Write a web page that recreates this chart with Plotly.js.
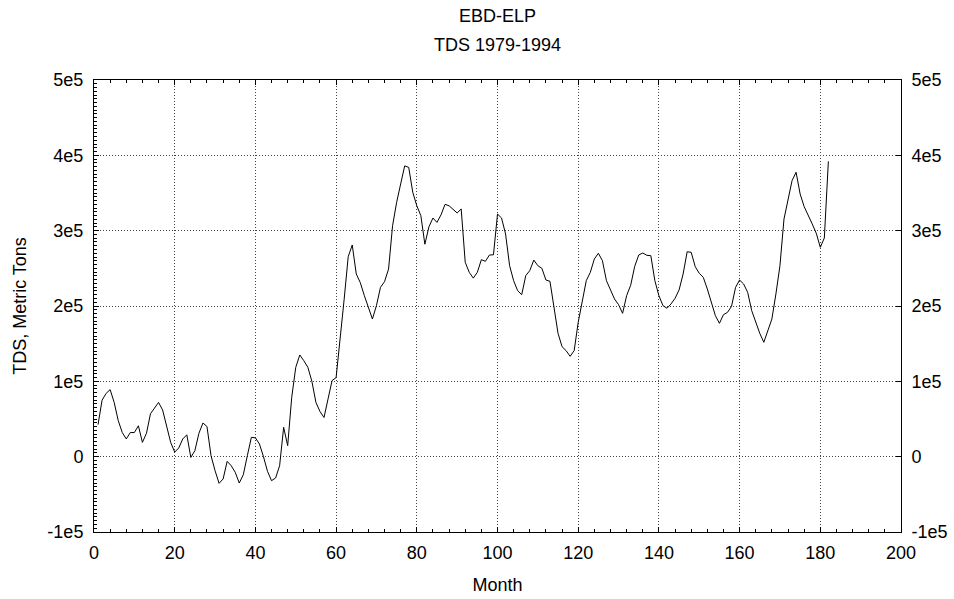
<!DOCTYPE html>
<html>
<head>
<meta charset="utf-8">
<script src="https://cdn.plot.ly/plotly-3.0.1.min.js"></script>
<style>html,body{margin:0;padding:0;background:#fff;}#chart{width:954px;height:599px;}</style>
</head>
<body>
<div id="chart"></div>
<script>
const titleLine1 = "EBD-ELP";
const titleLine2 = "TDS 1979-1994";
const xTitle = "Month";
const yTitle = "TDS, Metric Tons";
const yTickVals = [-100000, 0, 100000, 200000, 300000, 400000, 500000];
const yTickText = ["-1e5", "0", "1e5", "2e5", "3e5", "4e5", "5e5"];
const tds = [
  42500, 75000, 84000, 89000, 72000, 48000, 32000, 23500, 32000, 32000,
  41000, 19000, 31000, 57000, 64500, 72000, 62000, 41000, 19000, 6000,
  11500, 23500, 29000, -1000, 8000, 31000, 44700, 40000, 1300, -18600,
  -35400, -29600, -6200, -12000, -20800, -35000, -24000, 1300, 25700, 25000,
  16800, 0, -19500, -31900, -28300, -12000, 39000, 14600, 78800, 118600,
  135000, 127400, 118600, 100000, 72000, 60000, 52000, 76500, 101000, 105000,
  154000, 209000, 265500, 281000, 242500, 231000, 213700, 199000, 182700, 200500,
  224800, 232300, 249000, 306600, 337600, 362000, 386000, 384000, 351000, 333000,
  320000, 282000, 305000, 316800, 311000, 321000, 335000, 333000, 328800, 323500,
  328800, 258000, 244700, 237000, 244700, 261500, 259300, 267700, 268000, 322000,
  316800, 295600, 253500, 233600, 220300, 215000, 240300, 247000, 261000, 253500,
  250000, 234500, 232800, 200500, 163700, 146000, 140700, 133200, 140700, 178300,
  207000, 233600, 244700, 262400, 270000, 260200, 233600, 220300, 209300, 201800,
  190300, 213700, 227500, 252500, 267700, 270400, 267300, 266800, 233600, 213700,
  200500, 197000, 202700, 210200, 221300, 242500, 272000, 271300, 252200, 243400,
  238000, 222600, 204900, 187200, 177000, 188500, 191600, 199500, 224800, 234500,
  229200, 218200, 193800, 178300, 163700, 151800, 167300, 182700, 216000, 253500,
  315500, 339800, 366400, 377500, 348700, 331900, 321300, 308900, 296500, 277900,
  290300, 392000
];
const months = tds.map((_, i) => i + 1);

const font = {family: "Liberation Sans, Arial, sans-serif", size: 18, color: "#000"};
const gridDash = "1px,2px";

const traces = [
  {x: months, y: tds, type: "scatter", mode: "lines",
   line: {color: "#000", width: 1}, hoverinfo: "x+y", showlegend: false},
  {x: [0], y: [0], yaxis: "y2", type: "scatter", mode: "markers",
   marker: {opacity: 0}, hoverinfo: "skip", showlegend: false}
];

const yCommon = {
  range: [-100000, 500000],
  tickmode: "array", tickvals: yTickVals, ticktext: yTickText,
  ticks: "inside", ticklen: 5, tickcolor: "#000",
  showline: true, linecolor: "#000", linewidth: 1,
  zeroline: false, tickfont: font, fixedrange: true,
  ticklabelstandoff: 6
};

const layout = {
  width: 954, height: 599,
  margin: {l: 94, r: 53, t: 80, b: 67},
  paper_bgcolor: "#fff", plot_bgcolor: "#fff",
  font: font,
  title: {text: titleLine1, x: 0.5, xref: "paper", xanchor: "center",
          y: 1 - 16 / 599, yref: "container", yanchor: "middle",
          font: {family: font.family, size: 18, color: "#000"}},
  annotations: [
    {text: titleLine2, xref: "paper", x: 0.5, xanchor: "center",
     yref: "paper", y: 1.0 + (80 - 45) / 452, yanchor: "middle",
     showarrow: false, font: font}
  ],
  xaxis: {
    range: [0, 200], dtick: 20, tick0: 0,
    ticks: "inside", ticklen: 5, tickcolor: "#000",
    showline: true, linecolor: "#000", linewidth: 1, mirror: "ticks",
    showgrid: true, gridcolor: "#444", griddash: gridDash, gridwidth: 1,
    zeroline: false, tickfont: font, ticklabelstandoff: 4,
    title: {text: xTitle, font: font, standoff: 16},
    minor: {dtick: 4, ticks: "inside", ticklen: 3, tickcolor: "#000", showgrid: false}
  },
  yaxis: Object.assign({}, yCommon, {
    side: "left", mirror: false,
    showgrid: true, gridcolor: "#444", griddash: gridDash, gridwidth: 1,
    title: {text: yTitle, font: font, standoff: 16},
    minor: {dtick: 5000, tick0: 0, ticks: "inside", ticklen: 3, tickcolor: "#000", showgrid: false}
  }),
  yaxis2: Object.assign({}, yCommon, {
    side: "right", overlaying: "y", anchor: "x", showgrid: false
  }),
  showlegend: false
};

Plotly.newPlot("chart", traces, layout, {displayModeBar: false, staticPlot: true});
</script>
</body>
</html>
